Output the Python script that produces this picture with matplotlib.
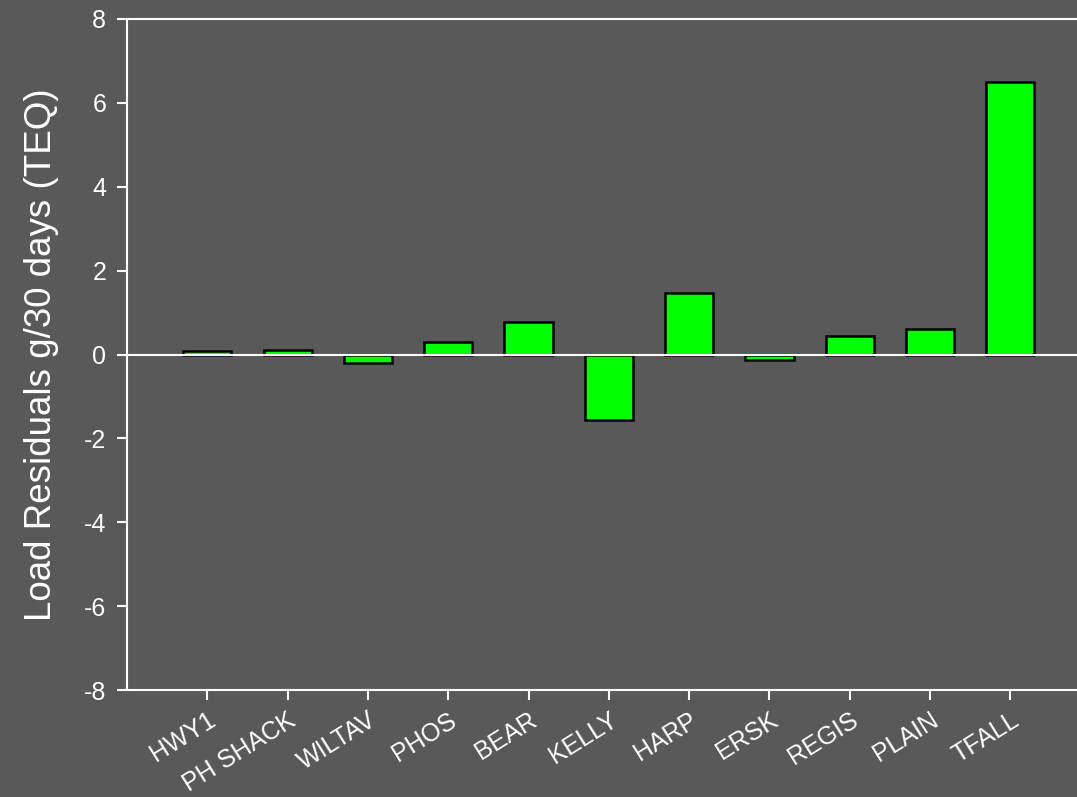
import matplotlib
matplotlib.use("Agg")
import matplotlib.pyplot as plt

categories = ["HWY1", "PH SHACK", "WILTAV", "PHOS", "BEAR", "KELLY", "HARP", "ERSK", "REGIS", "PLAIN", "TFALL"]
residuals = [0.08, 0.11, -0.2, 0.3, 0.77, -1.57, 1.47, -0.13, 0.43, 0.61, 6.5]
yticks = [-8, -6, -4, -2, 0, 2, 4, 6, 8]

plt.rcParams['font.family'] = ['Liberation Sans', 'DejaVu Sans']
bg = '#595959'
fig = plt.figure(figsize=(10.77, 7.97), dpi=100, facecolor=bg)
ax = fig.add_axes([127/1077, 107/797, 1 - 127/1077, (690-19)/797])
ax.set_facecolor(bg)

x = list(range(len(categories)))
ax.bar(x, residuals, width=0.6, color='#00ff00', edgecolor='black', linewidth=1.8, zorder=2)
ax.axhline(0, color='white', linewidth=1.5, zorder=3)

ax.set_xlim(-1, 10.83)
ax.set_ylim(-8, 8)
ax.set_yticks(yticks)
ax.set_yticklabels([str(v) for v in yticks])
ax.set_xticks(x)
ax.set_xticklabels(categories, rotation=32, ha='right', rotation_mode='anchor')

ax.spines['right'].set_visible(False)
for s in ['left', 'bottom', 'top']:
    ax.spines[s].set_color('white')
    ax.spines[s].set_linewidth(1.5)

ax.tick_params(axis='both', colors='white', labelcolor='white', labelsize=18, direction='out', length=7, width=1.5)
ax.tick_params(axis='x', pad=6)
ax.tick_params(axis='y', pad=8)
ax.set_ylabel("Load Residuals g/30 days (TEQ)", color='white', fontsize=26.5)
ax.yaxis.set_label_coords(-0.072, 0.5)

fig.savefig("out.png", dpi=100, facecolor=bg)
